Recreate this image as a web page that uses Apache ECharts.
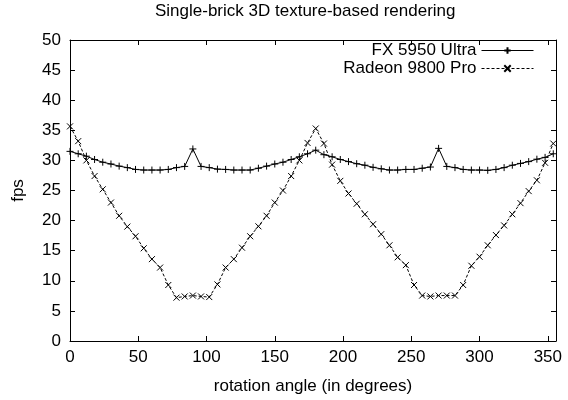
<!DOCTYPE html>
<html>
<head>
<meta charset="utf-8">
<script src="https://cdn.jsdelivr.net/npm/echarts@6/dist/echarts.min.js"></script>
<style>html,body{margin:0;padding:0;background:#fff;}#chart{width:568px;height:400px;}</style>
</head>
<body>
<div id="chart"></div>
<script>
var angles = [0,6,12,18,24,30,36,42,48,54,60,66,72,78,84,90,96,102,108,114,120,126,132,138,144,150,156,162,168,174,
  180,186,192,198,204,210,216,222,228,234,240,246,252,258,264,270,276,282,288,294,300,306,312,318,324,330,336,342,348,354];
var fx5950 = [31.5,31.1,30.7,30.15,29.7,29.4,29.05,28.8,28.5,28.4,28.4,28.4,28.5,28.8,29.0,31.9,29.0,28.8,28.55,28.5,28.4,28.4,28.4,28.7,29.05,29.4,29.7,30.15,30.6,31.1,
  31.7,30.95,30.6,30.15,29.8,29.45,29.2,28.85,28.6,28.4,28.4,28.5,28.5,28.7,28.9,32.0,29.0,28.8,28.5,28.4,28.4,28.35,28.5,28.8,29.2,29.5,29.8,30.2,30.5,31.1];
var radeon9800 = [35.65,33.2,30.0,27.4,25.2,23.0,20.8,19.0,17.4,15.4,13.6,12.2,9.3,7.2,7.4,7.55,7.4,7.3,9.4,12.2,13.6,15.5,17.4,19.05,20.8,23.0,25.0,27.4,30.0,32.9,
  35.3,32.8,29.3,26.6,24.5,22.8,21.05,19.4,17.75,15.9,13.9,12.6,9.3,7.55,7.4,7.55,7.55,7.55,9.3,12.5,14.0,15.9,17.6,19.2,21.05,22.9,24.9,26.7,29.6,32.8];
var seriesNames = ['FX 5950 Ultra', 'Radeon 9800 Pro'];
var titleText = 'Single-brick 3D texture-based rendering';
var xName = 'rotation angle (in degrees)';
var yName = 'fps';

function pairs(xs, ys) { return xs.map(function (x, i) { return [x, ys[i]]; }); }

var FONT = "'Liberation Sans', Arial, sans-serif";
var plusSym = 'path://M0,5L10,5M5,0L5,10';
var crossSym = 'path://M0,0L10,10M0,10L10,0';
var axisLineStyle = { color: '#000', width: 1 };

var chart = echarts.init(document.getElementById('chart'), null, { renderer: 'canvas' });
chart.setOption({
  animation: false,
  backgroundColor: '#fff',
  textStyle: { fontFamily: FONT, color: '#000' },
  title: {
    text: titleText, left: 155, top: 3, padding: 0,
    textStyle: { fontFamily: FONT, fontSize: 17, fontWeight: 'normal', color: '#000' }
  },
  legend: {
    orient: 'vertical', right: 34, top: 42, padding: 0, itemGap: 1,
    align: 'right', itemWidth: 52, itemHeight: 8,
    textStyle: { fontFamily: FONT, fontSize: 17, color: '#000' },
    lineStyle: { width: 1 },
    data: seriesNames
  },
  grid: { left: 70, right: 12, top: 40, bottom: 58 },
  xAxis: [{
    type: 'value', position: 'bottom', min: 0, max: 356, interval: 50,
    name: xName, nameLocation: 'middle', nameGap: 37,
    nameTextStyle: { fontFamily: FONT, fontSize: 17, color: '#000' },
    axisLine: { show: true, onZero: false, lineStyle: axisLineStyle },
    axisTick: { show: true, inside: true, length: 5, lineStyle: axisLineStyle },
    axisLabel: { margin: 8, fontFamily: FONT, fontSize: 17, color: '#000', showMaxLabel: false,
      formatter: function (v) { return v % 50 === 0 ? String(v) : ''; } },
    splitLine: { show: false }
  }, {
    type: 'value', position: 'top', min: 0, max: 356, interval: 50,
    axisLine: { show: true, onZero: false, lineStyle: axisLineStyle },
    axisTick: { show: true, inside: true, length: 5, lineStyle: axisLineStyle },
    axisLabel: { show: false }, splitLine: { show: false }
  }],
  yAxis: [{
    type: 'value', position: 'left', min: 0, max: 50, interval: 5,
    name: yName, nameLocation: 'middle', nameGap: 43, nameRotate: 90,
    nameTextStyle: { fontFamily: FONT, fontSize: 17, color: '#000' },
    axisLine: { show: true, onZero: false, lineStyle: axisLineStyle },
    axisTick: { show: true, inside: true, length: 5, lineStyle: axisLineStyle },
    axisLabel: { margin: 9, fontFamily: FONT, fontSize: 17, color: '#000' },
    splitLine: { show: false }
  }, {
    type: 'value', position: 'right', min: 0, max: 50, interval: 5,
    axisLine: { show: true, onZero: false, lineStyle: axisLineStyle },
    axisTick: { show: true, inside: true, length: 5, lineStyle: axisLineStyle },
    axisLabel: { show: false }, splitLine: { show: false }
  }],
  series: [{
    name: seriesNames[0], type: 'line', xAxisIndex: 0, yAxisIndex: 0,
    data: pairs(angles, fx5950),
    symbol: plusSym, symbolSize: 7, showAllSymbol: true,
    lineStyle: { color: '#000', width: 1, type: 'solid' },
    itemStyle: { color: '#000', borderColor: '#000', borderWidth: 1 },
    emphasis: { disabled: true }
  }, {
    name: seriesNames[1], type: 'line', xAxisIndex: 0, yAxisIndex: 0,
    data: pairs(angles, radeon9800),
    symbol: crossSym, symbolSize: 6, showAllSymbol: true,
    lineStyle: { color: '#000', width: 1, type: [3, 2] },
    itemStyle: { color: '#000', borderColor: '#000', borderWidth: 1 },
    emphasis: { disabled: true }
  }]
});
</script>
</body>
</html>
